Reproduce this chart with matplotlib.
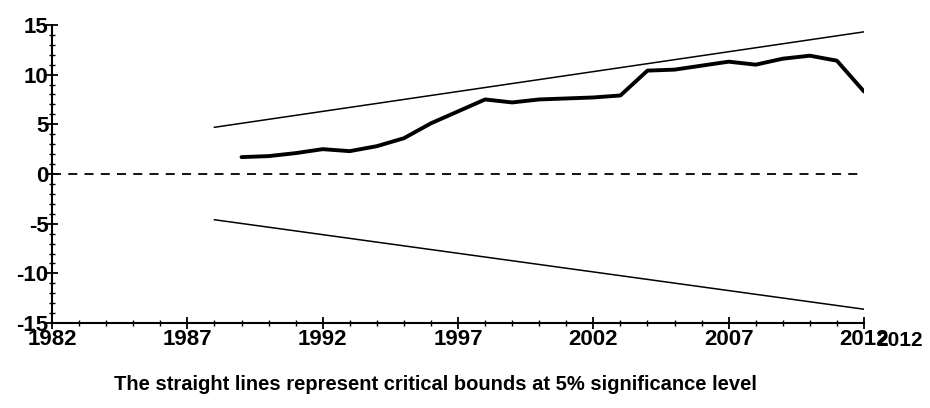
import matplotlib.pyplot as plt
from matplotlib.ticker import MultipleLocator
from matplotlib.transforms import blended_transform_factory

# CUSUM statistic by year
years = [1989, 1990, 1991, 1992, 1993, 1994, 1995, 1996, 1997, 1998, 1999, 2000,
         2001, 2002, 2003, 2004, 2005, 2006, 2007, 2008, 2009, 2010, 2011, 2012]
cusum = [1.7, 1.8, 2.1, 2.5, 2.3, 2.8, 3.6, 5.1, 6.3, 7.5, 7.2, 7.5,
         7.6, 7.7, 7.9, 10.4, 10.5, 10.9, 11.3, 11.0, 11.6, 11.9, 11.4, 8.3]

# 5% critical bounds (straight lines)
bound_years = [1988, 2012]
upper_bound = [4.7, 14.3]
lower_bound = [-4.6, -13.6]

zero_years = [1982, 2012]
zero_line = [0, 0]

x_ticks = [1982, 1987, 1992, 1997, 2002, 2007, 2012]
y_ticks = [-15, -10, -5, 0, 5, 10, 15]

plt.rcParams['font.family'] = ['Liberation Sans Narrow', 'Liberation Sans', 'DejaVu Sans']
plt.rcParams['font.weight'] = 'bold'
plt.rcParams['axes.unicode_minus'] = False

fig = plt.figure(figsize=(9.3, 4.08), dpi=100)
ax = fig.add_axes([0.056, 0.208, 0.873, 0.731])

ax.plot(years, cusum, color='black', linewidth=2.8, solid_capstyle='round')
ax.plot(bound_years, upper_bound, color='black', linewidth=1.1)
ax.plot(bound_years, lower_bound, color='black', linewidth=1.1)
ax.plot(zero_years, zero_line, color='black', linewidth=1.3, linestyle=(0, (5, 4)))

ax.set_xlim(1982, 2012)
ax.set_ylim(-15, 15)
ax.set_xticks(x_ticks)
ax.set_yticks(y_ticks)
ax.xaxis.set_minor_locator(MultipleLocator(1))
ax.yaxis.set_minor_locator(MultipleLocator(1))

for side in ['top', 'right']:
    ax.spines[side].set_visible(False)
for side in ['left', 'bottom']:
    ax.spines[side].set_linewidth(1.5)

ax.tick_params(which='major', direction='inout', length=9, width=1.3, labelsize=16, pad=0)
ax.tick_params(which='minor', direction='inout', length=5, width=1.0)
ax.tick_params(axis='y', pad=-2)
for lab in ax.get_xticklabels() + ax.get_yticklabels():
    lab.set_fontweight('bold')

# duplicated end label on the x axis
trans = blended_transform_factory(ax.transData, ax.transAxes)
ax.text(2013.3, -0.025, '2012', transform=trans, ha='center', va='top',
        fontsize=15, fontweight='bold', clip_on=False)

fig.text(0.468, 0.035, 'The straight lines represent critical bounds at 5% significance level',
         ha='center', va='bottom', fontsize=14.5, fontweight='bold')

fig.savefig('out.png', dpi=100, facecolor='white')
